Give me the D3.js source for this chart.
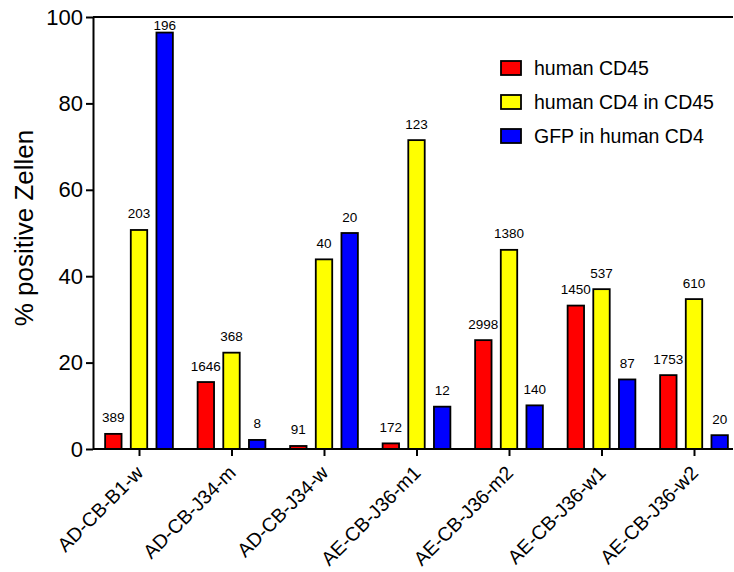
<!DOCTYPE html>
<html>
<head>
<meta charset="utf-8">
<script src="https://cdn.jsdelivr.net/npm/d3@7"></script>
<style>
  html, body { margin: 0; padding: 0; background: #fff; }
  svg { display: block; font-family: Arial, "Liberation Sans", sans-serif; }
</style>
</head>
<body>
<svg id="chart" width="734" height="572"></svg>
<script>
// Mouse samples (x axis groups)
const categories = ["AD-CB-B1-w", "AD-CB-J34-m", "AD-CB-J34-w", "AE-CB-J36-m1", "AE-CB-J36-m2", "AE-CB-J36-w1", "AE-CB-J36-w2"];
const seriesNames = ["human CD45", "human CD4 in CD45", "GFP in human CD4"];
const seriesColors = ["#ff0000", "#ffff00", "#0000ff"];

// Percent positive cells per series
const cd45Values = [3.5, 15.5, 0.7, 1.3, 25.2, 33.2, 17.1];
const cd4Values  = [50.7, 22.3, 43.9, 71.5, 46.1, 37.0, 34.7];
const gfpValues  = [96.4, 2.1, 50.0, 9.8, 10.1, 16.1, 3.2];

// Cell counts written above each bar
const cd45Counts = [389, 1646, 91, 172, 2998, 1450, 1753];
const cd4Counts  = [203, 368, 40, 123, 1380, 537, 610];
const gfpCounts  = [196, 8, 20, 12, 140, 87, 20];

const yTicks = [0, 20, 40, 60, 80, 100];
const yTitle = "% positive Zellen";

const seriesValues = [cd45Values, cd4Values, gfpValues];
const seriesCounts = [cd45Counts, cd4Counts, gfpCounts];

const svg = d3.select("#chart");
const plotLeft = 93, plotRight = 733, plotTop = 17, plotBottom = 449;

const y = d3.scaleLinear().domain([0, 100]).range([plotBottom, plotTop]);
const x = d3.scalePoint().domain(categories).range([139, 694]);
const xs = d3.scaleBand().domain(seriesNames).range([-38.5, 38.5])
  .paddingInner(0.36).paddingOuter(0.18);

// Bars
const rows = [];
categories.forEach((c, i) => {
  seriesNames.forEach((s, j) => {
    rows.push({ cat: c, series: s, j: j, value: seriesValues[j][i], count: seriesCounts[j][i] });
  });
});

const g = svg.append("g");
g.selectAll("rect.bar").data(rows).join("rect")
  .attr("class", "bar")
  .attr("x", d => x(d.cat) + xs(d.series))
  .attr("width", xs.bandwidth())
  .attr("y", d => y(d.value))
  .attr("height", d => y(0) - y(d.value))
  .attr("fill", d => seriesColors[d.j])
  .attr("stroke", "#000")
  .attr("stroke-width", 1.8);

// Count labels
g.selectAll("text.count").data(rows).join("text")
  .attr("class", "count")
  .attr("x", d => x(d.cat) + xs(d.series) + xs.bandwidth() / 2)
  .attr("y", d => Math.max(y(d.value) - 11.5, plotTop + 12.5))
  .attr("text-anchor", "middle")
  .attr("font-size", 13.5)
  .attr("fill", "#000")
  .text(d => d.count);

// Frame: top line and x baseline
svg.append("line").attr("x1", plotLeft).attr("x2", plotRight).attr("y1", plotTop).attr("y2", plotTop)
  .attr("stroke", "#000").attr("stroke-width", 2);
svg.append("line").attr("x1", plotLeft).attr("x2", plotRight).attr("y1", plotBottom).attr("y2", plotBottom)
  .attr("stroke", "#000").attr("stroke-width", 2);

// Y axis
const yAxis = svg.append("g").attr("transform", `translate(${plotLeft},0)`)
  .call(d3.axisLeft(y).tickValues(yTicks).tickSize(7).tickPadding(3).tickSizeOuter(0));
yAxis.select(".domain").attr("stroke-width", 2);
yAxis.selectAll(".tick line").attr("stroke-width", 2);
yAxis.selectAll(".tick text").attr("font-size", 22).attr("font-family", null).attr("fill", "#000");

// X axis
const xAxis = svg.append("g").attr("transform", `translate(0,${plotBottom})`)
  .call(d3.axisBottom(x).tickSize(7).tickSizeOuter(0));
xAxis.select(".domain").remove();
xAxis.selectAll(".tick line").attr("stroke-width", 2);
xAxis.selectAll(".tick text")
  .attr("font-size", 19.5).attr("font-family", null).attr("fill", "#000")
  .attr("text-anchor", "end")
  .attr("dy", null)
  .attr("y", null)
  .attr("transform", "translate(5,25) rotate(-45)");

// Y title
svg.append("text")
  .attr("transform", "translate(33,228) rotate(-90)")
  .attr("text-anchor", "middle")
  .attr("font-size", 26)
  .attr("fill", "#000")
  .text(yTitle);

// Legend
const legend = svg.append("g").attr("transform", "translate(501,68)");
const items = legend.selectAll("g").data(seriesNames).join("g")
  .attr("transform", (d, i) => `translate(0,${i * 34})`);
items.append("rect")
  .attr("x", 0).attr("y", -7).attr("width", 20).attr("height", 14)
  .attr("fill", (d, i) => seriesColors[i])
  .attr("stroke", "#000").attr("stroke-width", 1.8);
items.append("text")
  .attr("x", 33).attr("y", 7)
  .attr("font-size", 19.5)
  .attr("fill", "#000")
  .text(d => d);
</script>
</body>
</html>
